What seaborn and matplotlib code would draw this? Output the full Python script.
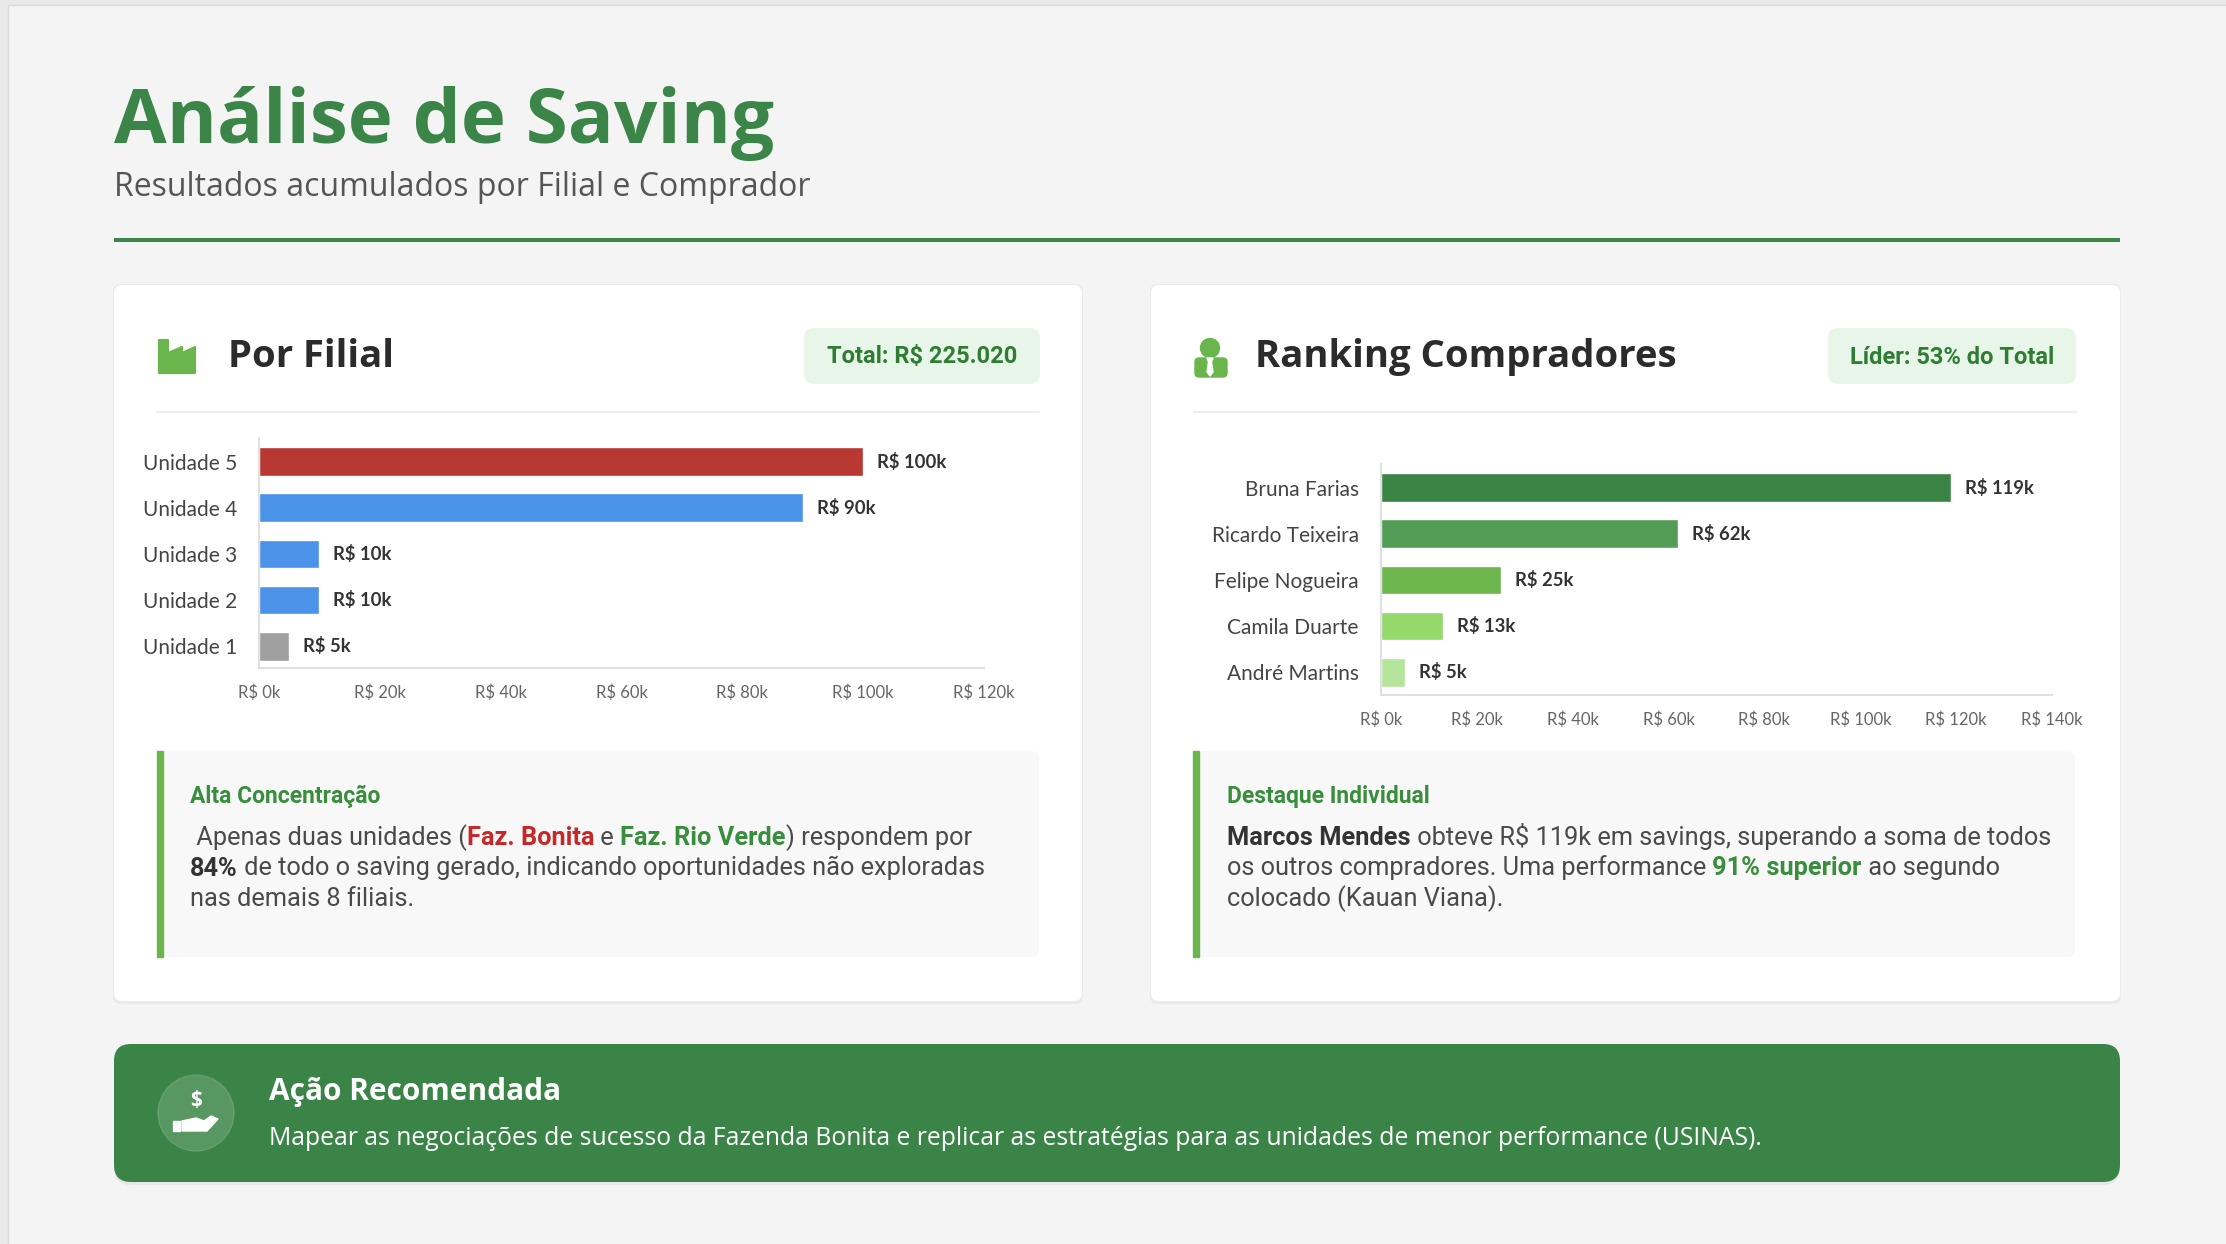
import matplotlib
matplotlib.use("Agg")
import matplotlib.pyplot as plt
import seaborn as sns
from matplotlib.patches import FancyBboxPatch, Rectangle, Circle, Polygon

# dados
filiais = ["Unidade 5", "Unidade 4", "Unidade 3", "Unidade 2", "Unidade 1"]
saving_filial = [100000, 90000, 10000, 10000, 5000]
cores_filial = ["#B83832", "#4A93E8", "#4A93E8", "#4A93E8", "#A0A0A0"]
ticks_filial = [0, 20000, 40000, 60000, 80000, 100000, 120000]

compradores = ["Bruna Farias", "Ricardo Teixeira", "Felipe Nogueira", "Camila Duarte", "André Martins"]
saving_comprador = [119000, 62000, 25000, 13000, 5000]
cores_comprador = ["#3A8446", "#529C55", "#6DB74E", "#95D86B", "#B5E59B"]
ticks_comprador = [0, 20000, 40000, 60000, 80000, 100000, 120000, 140000]

W, H = 2226, 1244
VERDE = "#3A8547"
VERDE_TXT = "#388E3C"
VERDE_CLARO = "#6AB54C"

sns.set_theme(style="white")
plt.rcParams["font.family"] = ["Lato", "DejaVu Sans"]

fig = plt.figure(figsize=(W / 100, H / 100), dpi=100, facecolor="#E9E9E9")
bg = fig.add_axes([0, 0, 1, 1])
bg.set_xlim(0, W)
bg.set_ylim(H, 0)
bg.axis("off")
bg.set_zorder(0)
renderer = fig.canvas.get_renderer()


def caixa(x0, y0, x1, y1, cor, raio=8, **kw):
    p = FancyBboxPatch((x0 + raio, y0 + raio), x1 - x0 - 2 * raio, y1 - y0 - 2 * raio,
                       boxstyle=f"round,pad={raio}", facecolor=cor, edgecolor="none", **kw)
    bg.add_patch(p)
    return p


def largura(s, **kw):
    t = bg.text(0, 0, s + "|", **kw)
    t2 = bg.text(0, 0, "|", **kw)
    w = t.get_window_extent(renderer).width - t2.get_window_extent(renderer).width
    t.remove()
    t2.remove()
    return w


def rich(x, y, partes, size, family="Roboto"):
    for s, cor, peso in partes:
        kw = dict(fontsize=size, color=cor, fontweight=peso, family=family)
        bg.text(x, y, s, va="baseline", ha="left", **kw)
        x += largura(s, **kw)


# fundo da pagina
bg.add_patch(Rectangle((8, 5), W, H, facecolor="#F4F4F4", edgecolor="#DCDCDC", lw=1))

# cabecalho
bg.text(114, 143, "Análise de Saving", fontsize=55, fontweight="bold", color=VERDE,
        family="Open Sans", va="baseline")
bg.text(114, 196, "Resultados acumulados por Filial e Comprador", fontsize=23,
        color="#555555", family="Open Sans", va="baseline")
bg.plot([114, 2120], [240, 240], color=VERDE, lw=2.9, solid_capstyle="butt")

# cards
for x0, x1 in [(114, 1082), (1151, 2120)]:
    caixa(x0 - 1, 284, x1 + 1, 1004, "#000000", alpha=0.04)
    caixa(x0, 285, x1, 1001, "white")

# icone fabrica
bg.add_patch(Polygon([(159, 340), (168, 340), (168, 353), (182, 347), (182, 353), (195, 347),
                      (195, 373), (159, 373)], closed=True, facecolor=VERDE_CLARO,
                     edgecolor=VERDE_CLARO, lw=1.5, joinstyle="round"))
# icone pessoa
bg.add_patch(Circle((1210, 348), 9.5, color=VERDE_CLARO))
bg.add_patch(FancyBboxPatch((1199, 362), 24, 11, boxstyle="round,pad=4", color=VERDE_CLARO))
bg.add_patch(Polygon([(1207, 358), (1213, 358), (1211.5, 362), (1213, 372), (1210, 376),
                      (1207, 372), (1208.5, 362)], closed=True, color="white"))

# titulos e badges
bg.text(228, 367, "Por Filial", fontsize=27.5, fontweight="bold", color="#2B2B2B",
        family="Open Sans", va="baseline")
bg.text(1255, 367, "Ranking Compradores", fontsize=27.5, fontweight="bold", color="#2B2B2B",
        family="Open Sans", va="baseline")
caixa(804, 328, 1040, 384, "#E8F5E9", raio=10)
bg.text(922, 357, "Total: R$ 225.020", fontsize=17, fontweight="bold", color="#2E7D32",
        family="Roboto", ha="center", va="center")
caixa(1828, 328, 2076, 384, "#E8F5E9", raio=10)
bg.text(1952, 357, "Líder: 53% do Total", fontsize=17, fontweight="bold", color="#2E7D32",
        family="Roboto", ha="center", va="center")
bg.plot([157, 1039], [412, 412], color="#EEEEEE", lw=1.5)
bg.plot([1194, 2076], [412, 412], color="#EEEEEE", lw=1.5)


def grafico(pos, cats, vals, cores, ticks, ylim):
    x0, y0, x1, y1 = pos
    ax = fig.add_axes([x0 / W, 1 - y1 / H, (x1 - x0) / W, (y1 - y0) / H])
    ax.set_zorder(2)
    sns.barplot(x=vals, y=cats, hue=cats, palette=dict(zip(cats, cores)), legend=False,
                orient="h", width=0.62, saturation=1, ax=ax)
    ax.set_facecolor("none")
    ax.set_xlim(ticks[0], ticks[-1])
    ax.set_ylim(*ylim)
    ax.set_xticks(ticks)
    ax.set_xticklabels([f"R$ {int(t / 1000)}k" for t in ticks])
    ax.set_xlabel("")
    ax.set_ylabel("")
    ax.tick_params(axis="x", length=0, pad=12, labelsize=12, labelcolor="#666666")
    ax.tick_params(axis="y", length=0, pad=16, labelsize=15, labelcolor="#444444")
    for s in ["top", "right"]:
        ax.spines[s].set_visible(False)
    for s in ["left", "bottom"]:
        ax.spines[s].set_color("#E0E0E0")
        ax.spines[s].set_linewidth(1.5)
    for c in ax.containers:
        ax.bar_label(c, labels=[f"R$ {int(round(v / 1000))}k" for v in c.datavalues],
                     padding=10, fontsize=13.3, fontweight="bold", color="#333333")
    return ax


grafico((259, 438, 984, 668), filiais, saving_filial, cores_filial, ticks_filial, (4.47, -0.51))
grafico((1381, 464, 2052, 695), compradores, saving_comprador, cores_comprador, ticks_comprador,
        (4.49, -0.51))

# notas
for x0, x1 in [(159, 1039), (1195, 2075)]:
    caixa(x0, 751, x1, 957, "#F8F8F8")
    bg.add_patch(Rectangle((x0 - 2, 751), 6, 206, color=VERDE_CLARO))

CINZA = "#4A4A4A"
TAM = 18.3
bg.text(190, 803, "Alta Concentração", fontsize=16.5, fontweight="bold", color=VERDE_TXT,
        family="Roboto", va="baseline")
rich(190, 845, [(" Apenas duas unidades (", CINZA, "normal"), ("Faz. Bonita", "#C62828", "bold"),
                (" e ", CINZA, "normal"), ("Faz. Rio Verde", VERDE_TXT, "bold"),
                (") respondem por", CINZA, "normal")], TAM)
rich(190, 875.5, [("84%", "#333333", "bold"),
                  (" de todo o saving gerado, indicando oportunidades não exploradas", CINZA, "normal")], TAM)
rich(190, 906, [("nas demais 8 filiais.", CINZA, "normal")], TAM)

bg.text(1227, 803, "Destaque Individual", fontsize=16.5, fontweight="bold", color=VERDE_TXT,
        family="Roboto", va="baseline")
rich(1227, 845, [("Marcos Mendes", "#333333", "bold"),
                 (" obteve R$ 119k em savings, superando a soma de todos", CINZA, "normal")], TAM)
rich(1227, 875.5, [("os outros compradores. Uma performance ", CINZA, "normal"),
                   ("91% superior", VERDE_TXT, "bold"), (" ao segundo", CINZA, "normal")], TAM)
rich(1227, 906, [("colocado (Kauan Viana).", CINZA, "normal")], TAM)

# acao recomendada
caixa(114, 1047, 2120, 1185, "#000000", raio=17, alpha=0.05)
caixa(114, 1044, 2120, 1182, "#3B8447", raio=17)
bg.add_patch(Circle((196, 1113), 38, color="white", alpha=0.15))
bg.text(196, 1101, "$", fontsize=15, fontweight="bold", color="white", family="Open Sans",
        ha="center", va="center")
bg.add_patch(Rectangle((173, 1121), 7, 10, color="white"))
bg.add_patch(Polygon([(182, 1121), (196, 1118), (204, 1121), (211, 1116), (218, 1119),
                      (207, 1131), (182, 1131)], closed=True, color="white"))
bg.text(269, 1100, "Ação Recomendada", fontsize=21.5, fontweight="bold", color="white",
        family="Open Sans", va="baseline")
bg.text(269, 1145, "Mapear as negociações de sucesso da Fazenda Bonita e replicar as estratégias "
        "para as unidades de menor performance (USINAS).", fontsize=17.8, color="white",
        family="Open Sans", va="baseline")

fig.savefig("out.png", dpi=100, facecolor=fig.get_facecolor())
